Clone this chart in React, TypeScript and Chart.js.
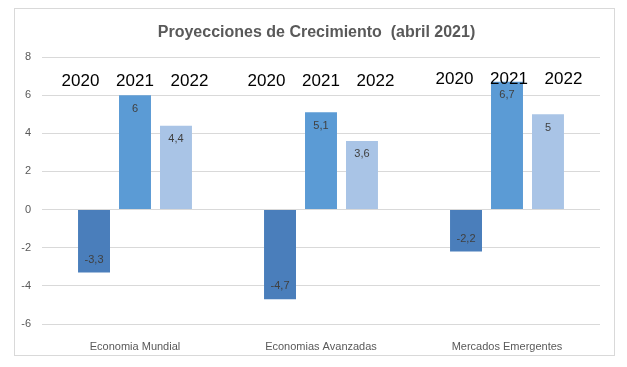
import React, { useEffect, useRef } from "react";
import { Chart, registerables } from "chart.js";

Chart.register(...registerables);

const titleText = "Proyecciones de Crecimiento  (abril 2021)";
const categories = ["Economia Mundial", "Economias Avanzadas", "Mercados Emergentes"];
const seriesLabels = ["2020", "2021", "2022"];
const values2020 = [-3.3, -4.7, -2.2];
const values2021 = [6, 5.1, 6.7];
const values2022 = [4.4, 3.6, 5];
const seriesColors = ["#4a7ebb", "#5b9bd5", "#a9c4e6"];
const yMin = -6;
const yMax = 8;
const yStep = 2;

const fmt = (v: number) => String(v).replace(".", ",");

const overlayPlugin = {
  id: "overlay",
  afterDatasetsDraw(chart: any) {
    const ctx = chart.ctx;
    const area = chart.chartArea;
    ctx.save();
    // data labels
    ctx.font = '11px "Liberation Sans", Arial, sans-serif';
    ctx.fillStyle = "#404040";
    ctx.textAlign = "center";
    ctx.textBaseline = "middle";
    chart.data.datasets.forEach((ds: any, di: number) => {
      const meta = chart.getDatasetMeta(di);
      meta.data.forEach((bar: any, i: number) => {
        const v = ds.data[i];
        const y = v >= 0 ? bar.y + 13.5 : bar.y - 13;
        ctx.fillText(fmt(v), bar.x, y);
      });
    });
    // year labels above each group
    ctx.font = '17px "Liberation Sans", Arial, sans-serif';
    ctx.fillStyle = "#000000";
    const xScale = chart.scales.x;
    categories.forEach((_c, i) => {
      const cx = xScale.getPixelForValue(i);
      chart.data.datasets.forEach((ds: any, di: number) => {
        const bar = chart.getDatasetMeta(di).data[i];
        const x = cx + (bar.x - cx) * 1.33 + (i === 2 ? 2 : 0);
        ctx.fillText(ds.label, x, area.top + 24 - (i === 2 ? 2 : 0));
      });
    });
    // title
    ctx.font = 'bold 16px "Liberation Sans", Arial, sans-serif';
    ctx.fillStyle = "#595959";
    ctx.fillText(titleText, chart.width / 2 + 2, 24);
    ctx.restore();
  },
};

export default function App() {
  const canvasRef = useRef<HTMLCanvasElement | null>(null);

  useEffect(() => {
    if (!canvasRef.current) return;
    const chart = new Chart(canvasRef.current, {
      type: "bar",
      data: {
        labels: categories,
        datasets: [
          { label: seriesLabels[0], data: values2020, backgroundColor: seriesColors[0] },
          { label: seriesLabels[1], data: values2021, backgroundColor: seriesColors[1] },
          { label: seriesLabels[2], data: values2022, backgroundColor: seriesColors[2] },
        ],
      },
      options: {
        animation: false,
        responsive: false,
        maintainAspectRatio: false,
        datasets: {
          bar: { categoryPercentage: 0.661, barPercentage: 0.78, borderWidth: 0 },
        },
        layout: { padding: { top: 48, right: 14, left: 0, bottom: 0 } },
        plugins: {
          legend: { display: false },
          title: { display: false },
          tooltip: { enabled: false },
        },
        scales: {
          x: {
            grid: { display: false },
            border: { display: false },
            ticks: {
              color: "#595959",
              font: { family: '"Liberation Sans", Arial, sans-serif', size: 11 },
              padding: 8,
            },
            afterFit: (s: any) => {
              s.height = 31;
            },
          },
          y: {
            min: yMin,
            max: yMax,
            ticks: {
              stepSize: yStep,
              color: "#595959",
              font: { family: '"Liberation Sans", Arial, sans-serif', size: 11 },
              padding: 11,
            },
            grid: { color: "#d9d9d9", drawTicks: false },
            border: { display: false },
            afterFit: (s: any) => {
              s.width = 27;
            },
          },
        },
      },
      plugins: [overlayPlugin],
    });
    return () => chart.destroy();
  }, []);

  return (
    <div style={{ position: "absolute", left: 0, top: 0, width: 627, height: 367, background: "#fff" }}>
      <div
        style={{
          position: "absolute",
          left: 14,
          top: 8,
          width: 601,
          height: 348,
          border: "1px solid #d9d9d9",
          boxSizing: "border-box",
        }}
      >
        <canvas ref={canvasRef} width={599} height={346} style={{ display: "block" }} />
      </div>
    </div>
  );
}
